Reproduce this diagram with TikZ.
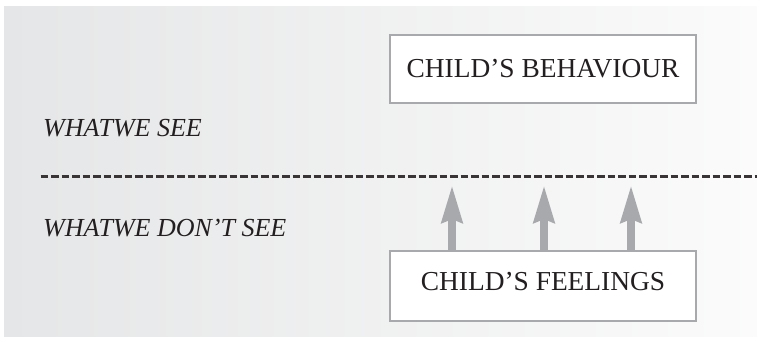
\documentclass[tikz,border=0pt]{standalone}
\usepackage{fontspec}
\setmainfont{Liberation Serif}
\usetikzlibrary{arrows.meta}
\definecolor{bgL}{RGB}{229,230,231}
\definecolor{bgR}{RGB}{251,251,251}
\definecolor{boxline}{RGB}{167,169,172}
\definecolor{ink}{RGB}{35,31,32}
\tikzset{
  boxnode/.style={draw=boxline, line width=2pt, fill=white, minimum width=306pt, inner sep=0pt,
    text=ink, font=\fontsize{27.4}{30}\selectfont},
  sidelabel/.style={anchor=base west, inner sep=0pt, text=ink, font=\fontsize{26}{30}\selectfont\itshape},
  uparrow/.style={draw=boxline, line width=8.3pt, -{Stealth[length=37pt,width=20pt,inset=3pt]}},
  divider/.style={draw=ink!90, line width=3.1pt, dash pattern=on 7.6pt off 2.9pt}
}
\begin{document}
\begin{tikzpicture}[x=1pt,y=-1pt]
\useasboundingbox (0,0) rectangle (757,349);
\shade[left color=bgL, right color=bgR] (4,6) rectangle (757,336);
\node[boxnode, minimum height=68pt] (beh) at (543,69) {CHILD’S BEHAVIOUR};
\node[boxnode, minimum height=70pt, text depth=8.6pt] (feel) at (543,286) {CHILD’S FEELINGS};
\node[sidelabel] (see) at (43,136) {WHATWE SEE};
\node[sidelabel] (dontsee) at (43,236) {WHATWE DON’T SEE};
\coordinate (dl) at (40.5,176.3);
\coordinate (dr) at (757,176.3);
\draw[divider] (dl) -- (dr);
\coordinate (t1) at (452,185);
\coordinate (t2) at (544,185);
\coordinate (t3) at (631,185);
\draw[uparrow] (t1 |- feel.north) -- (t1);
\draw[uparrow] (t2 |- feel.north) -- (t2);
\draw[uparrow] (t3 |- feel.north) -- (t3);
\end{tikzpicture}
\end{document}
